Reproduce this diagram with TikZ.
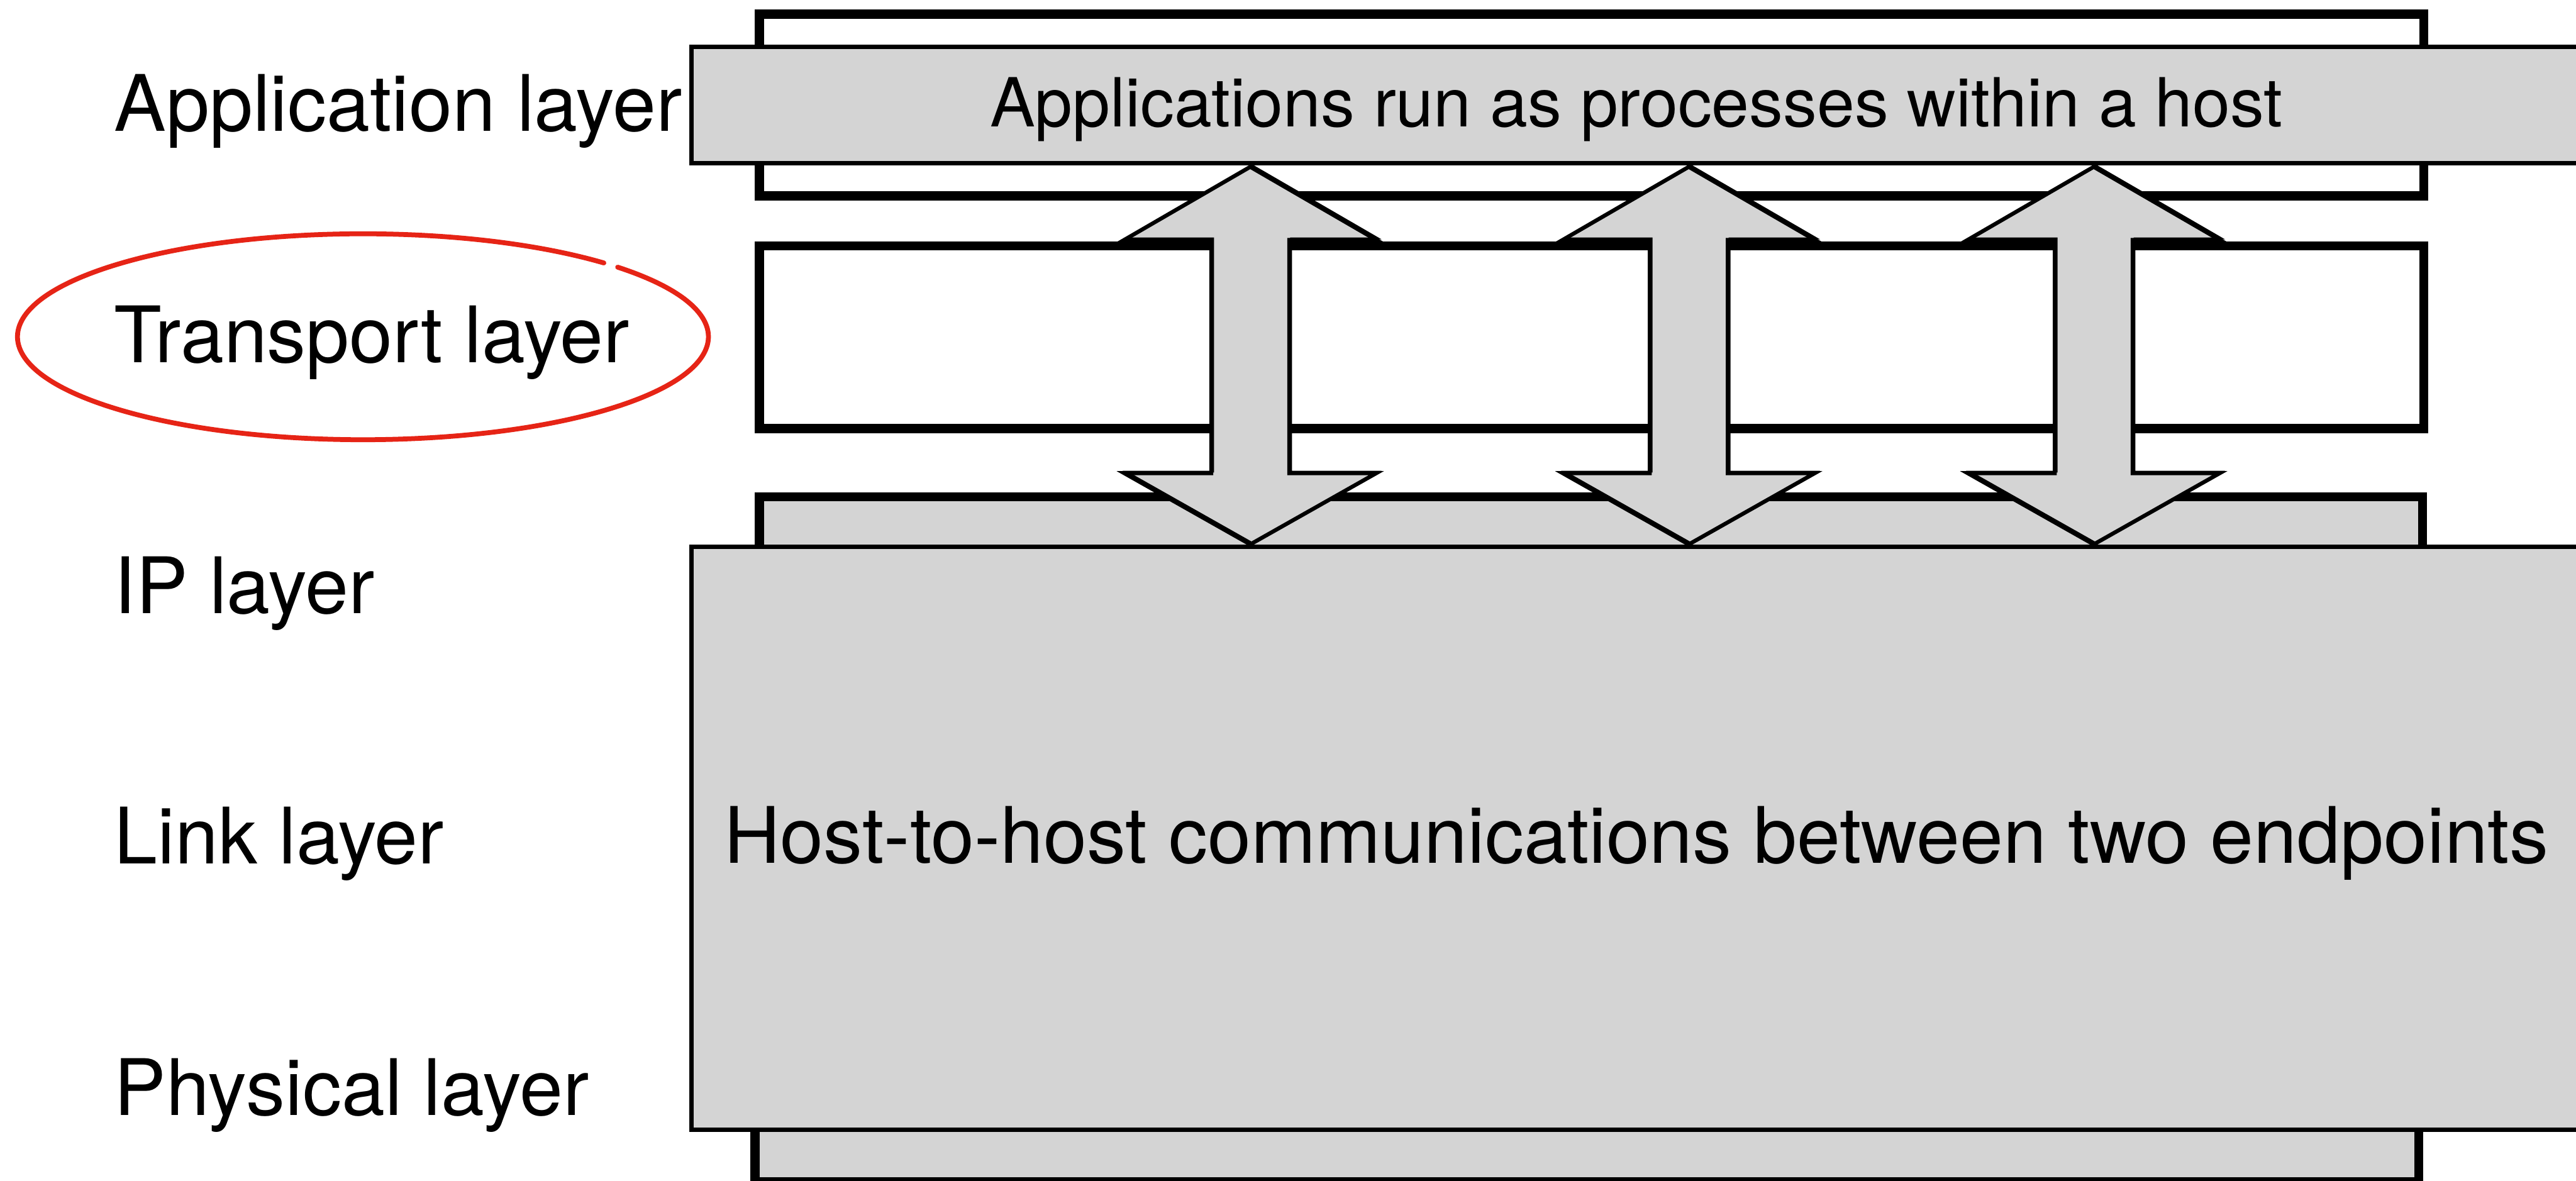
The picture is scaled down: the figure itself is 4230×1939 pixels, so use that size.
\documentclass[tikz,border=0pt]{standalone}
\usepackage{fontspec}
\setmainfont{TeX Gyre Heros}
\definecolor{paneGray}{RGB}{212,212,212}
\definecolor{markRed}{RGB}{230,36,22}

% a filled shape with a doubled, pencil-like outline
\newcommand\pencilshape[1]{%
  \fill[paneGray] #1;
  \draw[pencil] #1;
  \draw[pencil, line width=0.03cm, shift={(3,-2.5)}] #1;
}

\begin{document}
\begin{tikzpicture}[x=0.01cm, y=-0.01cm,
  layerbox/.style={draw=black, line width=0.15cm, line join=miter},
  pencil/.style={draw=black, line width=0.065cm, line join=miter},
  lbl/.style={anchor=base west, inner sep=0pt, font=\fontsize{36.4pt}{40pt}\selectfont},
  bandtext/.style={anchor=base, inner sep=0pt},
]
\useasboundingbox (0,0) rectangle (4230,1939);
\clip (0,0) rectangle (4230,1939);

% layer boxes of the stack
\draw[layerbox, fill=white]     (1247,23.5) rectangle (3980,321.5);
\draw[layerbox, fill=white]     (1247,404)  rectangle (3980,704);
\draw[layerbox, fill=paneGray]  (1247,816)  rectangle (3978,1140);
\draw[layerbox, fill=paneGray]  (1240,1620) rectangle (3972,1941);

% application band and host-to-host block
\pencilshape{(1135,77) rectangle (4260,268)}
\pencilshape{(1135,898) rectangle (4236,1856)}

% double-headed block arrows between the application band and the host block
\foreach \cx in {2053,2773,3438}{
  \pencilshape{(\cx,274) -- (\cx+207,394) -- (\cx+64,394) -- (\cx+64,777)
    -- (\cx+207,777) -- (\cx,894) -- (\cx-207,777) -- (\cx-64,777)
    -- (\cx-64,394) -- (\cx-207,394) -- cycle}
}

% layer names
\node[lbl] (appL)  at (187,215)  {Application layer};
\node[lbl] (trL)   at (187,595)  {Transport layer};
\node[lbl] (ipL)   at (187,1007) {IP layer};
\node[lbl] (linkL) at (187,1418) {Link layer};
\node[lbl] (phyL)  at (187,1832) {Physical layer};

% texts inside the blocks
\node[bandtext, font=\fontsize{31.6pt}{36pt}\selectfont] (appT) at (2687,208)
  {Applications run as processes within a host};
\node[bandtext, font=\fontsize{36.4pt}{40pt}\selectfont] (hostT) at (2687,1417)
  {Host-to-host communications between two endpoints};

% red ring around the transport layer name
\coordinate (ring) at (596,553);
\draw[markRed, line width=0.08cm, line cap=round]
  ([shift={(45.8:5.67cm and 1.69cm)}]ring)
  arc[start angle=45.8, end angle=402.5, x radius=5.67cm, y radius=1.69cm];
\draw[markRed, line width=0.035cm, line cap=round]
  ([shift={(60:5.655cm and 1.675cm)}]ring)
  arc[start angle=60, end angle=395, x radius=5.655cm, y radius=1.675cm];
\end{tikzpicture}
\end{document}
